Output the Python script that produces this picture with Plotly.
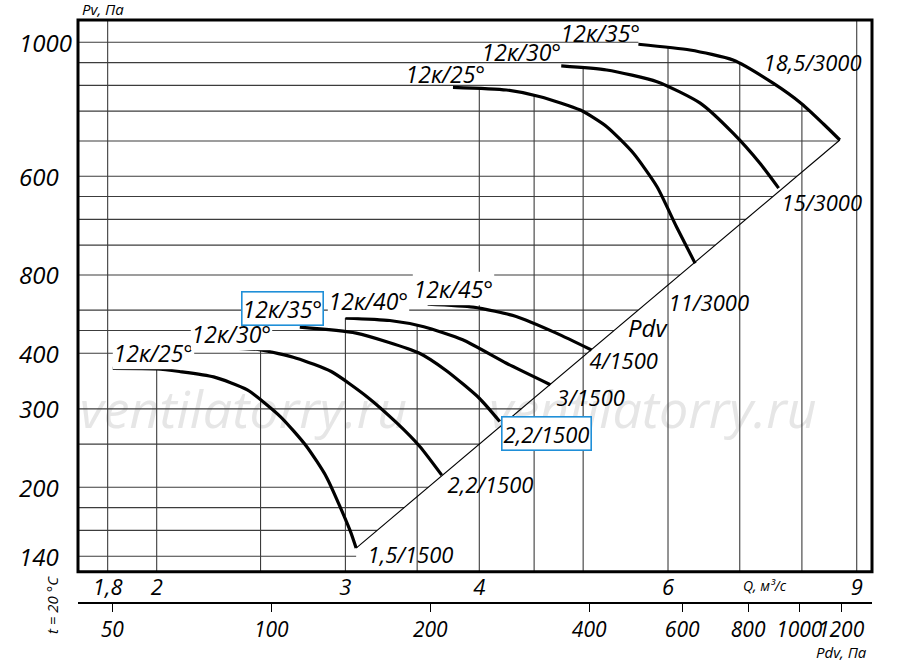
import numpy as np
import plotly.graph_objects as go

# --- data (Q in m3/s, Pv in Pa) ---
q_25_1500 = [1.82, 2.00, 2.10, 2.26, 2.43, 2.61, 2.76, 2.88, 3.03, 3.07]
p_25_1500 = [370, 369, 364, 354, 331, 288, 247, 211, 160, 146]
q_30_1500 = [2.31, 2.50, 2.70, 2.91, 3.14, 3.35, 3.52, 3.69]
p_30_1500 = [412, 407, 390, 364, 320, 279, 247, 213]
q_35_1500 = [2.72, 3.07, 3.51, 3.73, 4.00, 4.18]
p_35_1500 = [458, 444, 401, 365, 317, 281]
q_40_1500 = [3.00, 3.30, 3.55, 3.86, 4.24, 4.66]
p_40_1500 = [480, 474, 459, 429, 380, 340]
q_45_1500 = [3.58, 3.95, 4.33, 4.72, 5.09]
p_45_1500 = [516, 508, 484, 444, 407]
q_25_3000 = [3.78, 4.24, 4.56, 4.97, 5.26, 5.57, 5.86, 6.11, 6.36]
p_25_3000 = [1584, 1562, 1509, 1408, 1292, 1126, 947, 770, 637]
q_30_3000 = [4.77, 5.26, 5.86, 6.43, 6.90, 7.31, 7.61]
p_30_3000 = [1769, 1732, 1631, 1459, 1249, 1069, 940]
q_35_3000 = [5.63, 6.29, 6.90, 7.52, 8.00, 8.38, 8.68]
p_35_3000 = [1979, 1921, 1824, 1618, 1453, 1310, 1206]

blade_names = ["12к/25°", "12к/30°", "12к/35°", "12к/40°", "12к/45°",
               "12к/25°", "12к/30°", "12к/35°"]
motor_names = ["1,5/1500", "2,2/1500", "2,2/1500", "3/1500", "4/1500",
               "11/3000", "15/3000", "18,5/3000"]

# grid and tick values
q_grid = [1.8, 2, 2.5, 3, 3.5, 4, 4.5, 5, 6, 7, 8, 9]
p_grid = [140, 160, 180, 200, 250, 300, 400, 450, 500, 600, 700, 800, 900,
          1000, 1200, 1400, 1600, 1800, 2000]
q_ticks = [1.8, 2, 3, 4, 6, 9]
q_ticktext = ["1,8", "2", "3", "4", "6", "9"]
p_ticks = [2000, 1000, 600, 400, 300, 200, 140]
p_ticktext = ["1000", "600", "800", "400", "300", "200", "140"]
pdv_ticks = [50, 100, 200, 400, 600, 800, 1000, 1200]

curves = [
    (q_25_1500, p_25_1500), (q_30_1500, p_30_1500), (q_35_1500, p_35_1500),
    (q_40_1500, p_40_1500), (q_45_1500, p_45_1500),
    (q_25_3000, p_25_3000), (q_30_3000, p_30_3000), (q_35_3000, p_35_3000),
]

# label placement (pixels relative to curve start / end)
name_shift = [(-1, 16), (-34, 14), (-59, 19), (-18, 18), (-16, 16),
              (-49, 14), (-81, 14), (-79, 12)]
motor_shift = [(10, -5), (4, -8), (1, -12), (5, -12), (-3, -10),
               (-28, -38), (1, -13), (-78, 79)]
boxed_name = [False, False, True, False, False, False, False, False]
boxed_motor = [False, False, True, False, False, False, False, False]

x_range = [0.2276, 0.9685]
y_range = [2.1113, 3.3510]
pdv_range = [1.6339, 3.1377]

ital = dict(family="Open Sans", color="black", style="italic")
blue = "#1f8fd8"
grid_col = "#3c3c3c"

fig = go.Figure()

# watermark (drawn first, under everything)
fig.add_trace(go.Scatter(
    x=[2.41, 5.81], y=[291, 291], mode="text",
    text=["ventilatorry.ru", "ventilatorry.ru"],
    textfont=dict(family="Open Sans", size=52, color="#e6e6e6", style="italic"),
    hoverinfo="skip", showlegend=False))

# outer boundary: last 3000 curve plus the Pdv line down to the first curve end
bq = np.log10(q_35_3000 + [q_25_1500[-1]])
bp = np.log10(p_35_3000 + [p_25_1500[-1]])
hx, hy = [], []
for p in p_grid:
    q_end = 10 ** np.interp(np.log10(p), bp[::-1], bq[::-1])
    hx += [10 ** x_range[0], q_end, None]
    hy += [p, p, None]
fig.add_trace(go.Scatter(x=hx, y=hy, mode="lines",
                         line=dict(color=grid_col, width=1.1),
                         hoverinfo="skip", showlegend=False))

vx, vy = [], []
for q in q_grid:
    tops = [10 ** np.interp(np.log10(q), np.log10(cq), np.log10(cp))
            for cq, cp in curves if cq[0] <= q <= cq[-1]]
    top = max(tops) if tops else 10 ** y_range[1]
    vx += [q, q, None]
    vy += [10 ** y_range[0], top, None]
fig.add_trace(go.Scatter(x=vx, y=vy, mode="lines",
                         line=dict(color=grid_col, width=1.1),
                         hoverinfo="skip", showlegend=False))

# Pdv line through the curve ends
fig.add_trace(go.Scatter(x=[q_25_1500[-1], q_35_3000[-1]],
                         y=[p_25_1500[-1], p_35_3000[-1]], mode="lines",
                         line=dict(color="black", width=1.1),
                         hoverinfo="skip", showlegend=False))

for cq, cp in curves:
    fig.add_trace(go.Scatter(x=cq, y=cp, mode="lines",
                             line=dict(color="black", width=3.2, shape="spline", smoothing=0.6),
                             hoverinfo="skip", showlegend=False))

# dummy trace so the Pdv axis gets drawn
fig.add_trace(go.Scatter(x=pdv_ticks, y=[p_grid[0]] * len(pdv_ticks), xaxis="x2",
                         mode="markers", marker=dict(opacity=0),
                         hoverinfo="skip", showlegend=False))

ann = []
for i, (cq, cp) in enumerate(curves):
    dx, dy = name_shift[i]
    ann.append(dict(x=np.log10(cq[0]), y=np.log10(cp[0]), text=blade_names[i],
                    xanchor="left", yanchor="middle", xshift=dx, yshift=dy,
                    showarrow=False, font=dict(size=23, **ital),
                    bgcolor="white" if i < 5 else "rgba(0,0,0,0)",
                    bordercolor=blue if boxed_name[i] else "rgba(0,0,0,0)",
                    borderwidth=1.6, borderpad=0))
    dx, dy = motor_shift[i]
    ann.append(dict(x=np.log10(cq[-1]), y=np.log10(cp[-1]), text=motor_names[i],
                    xanchor="left", yanchor="middle", xshift=dx, yshift=dy,
                    showarrow=False, font=dict(size=22, **ital),
                    bgcolor="white" if boxed_motor[i] else "rgba(0,0,0,0)",
                    bordercolor=blue if boxed_motor[i] else "rgba(0,0,0,0)",
                    borderwidth=1.6, borderpad=1 if boxed_motor[i] else 0))

for p, t in zip(p_ticks, p_ticktext):
    ann.append(dict(x=-0.0768, xref="paper", y=np.log10(p), yref="y", text=t,
                    xanchor="left", yanchor="middle", showarrow=False,
                    font=dict(size=24, **ital)))

ann += [
    dict(x=0.0025, y=1.019, xref="paper", yref="paper", text="Pv, Па",
         xanchor="left", yanchor="middle", showarrow=False, font=dict(size=15, **ital)),
    dict(x=0.9616, y=-0.0835, xref="paper", yref="paper", text="Pdv, Па",
         xanchor="center", yanchor="middle", showarrow=False, font=dict(size=15, **ital)),
    dict(x=0.8652, y=0.0292, xref="paper", yref="paper", text="Q, м³/с",
         xanchor="center", yanchor="middle", showarrow=False, font=dict(size=14, **ital)),
    dict(x=-0.0327, y=-0.0034, xref="paper", yref="paper", text="t = 20 °C",
         textangle=-90, xanchor="center", yanchor="middle", showarrow=False,
         font=dict(size=15, **ital)),
    dict(x=0.7179, y=0.4717, xref="paper", yref="paper", text="Pdv",
         xanchor="center", yanchor="middle", showarrow=False, font=dict(size=24, **ital)),
]

fig.update_layout(
    width=900, height=670,
    margin=dict(l=78, r=28, t=20, b=67, autoexpand=False),
    plot_bgcolor="white", paper_bgcolor="white",
    xaxis=dict(type="log", range=x_range, showgrid=False, zeroline=False,
               showline=False, ticks="", tickvals=q_ticks, ticktext=q_ticktext,
               tickfont=dict(size=22, **ital), anchor="y", automargin=False,
               tickangle=0),
    yaxis=dict(type="log", range=y_range, domain=[0.0537, 1], showgrid=False,
               zeroline=False, showline=False, ticks="", showticklabels=False,
               automargin=False),
    xaxis2=dict(type="log", range=pdv_range, overlaying="x", anchor="free",
                position=0, side="bottom", showgrid=False, zeroline=False,
                showline=True, linecolor="black", linewidth=2,
                ticks="outside", ticklen=8, tickwidth=1.2, tickcolor="black",
                tickvals=pdv_ticks, ticktext=[str(v) for v in pdv_ticks],
                tickfont=dict(size=21, **ital), tickangle=0, automargin=False),
    annotations=ann,
    shapes=[dict(type="rect", xref="x domain", yref="y domain", x0=0, x1=1, y0=0, y1=1,
                 line=dict(color="black", width=3))],
    showlegend=False,
)

# drop the default page margin so the figure sits at the window corner
fig.write_html("out.html", config={"displayModeBar": False},
               post_script="document.body.style.margin = '0';")
